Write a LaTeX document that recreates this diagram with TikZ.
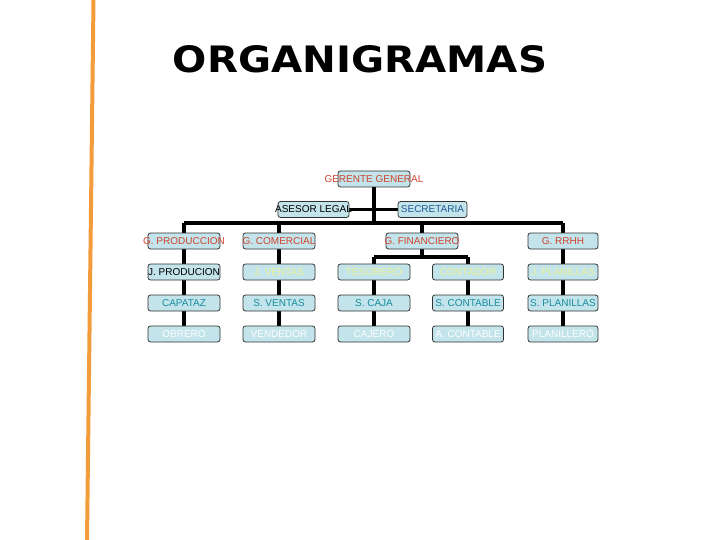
\documentclass[tikz,border=0pt]{standalone}
\usepackage{fontspec}
\setmainfont{Liberation Sans}
\newfontfamily\titlefont{DejaVu Sans}
\usetikzlibrary{backgrounds}
\definecolor{boxfill}{RGB}{194,228,234}
\definecolor{boxline}{RGB}{50,50,50}
\definecolor{tred}{RGB}{208,68,46}
\definecolor{tyel}{RGB}{236,242,150}
\definecolor{tteal}{RGB}{24,140,158}
\definecolor{tblue}{RGB}{32,90,150}
\definecolor{orangeline}{RGB}{243,156,60}
\tikzset{
  orgbox/.style={draw=boxline, fill=boxfill, line width=0.8pt, rounded corners=2.5pt,
    minimum width=72pt, minimum height=16pt, inner sep=0pt, font=\fontsize{10}{12}\selectfont},
  conn/.style={line width=3.5pt, black},
}
\newcommand{\ztxt}[1]{\makebox[0pt]{#1}}
\begin{document}
\begin{tikzpicture}[x=1pt,y=-1pt]
\useasboundingbox (0,0) rectangle (720,540);
\draw[orangeline, line width=4pt] (93.5,0) -- (87,540);
\node[font=\titlefont\bfseries] (title) at (360,59) {\resizebox{374pt}{27pt}{ORGANIGRAMAS}};

% top
\node[orgbox, text=tred] (gg) at (374,179) {\ztxt{GERENTE GENERAL}};
\node[orgbox, minimum width=71pt, text=black] (al) at (313.5,209.5) {\ztxt{ASESOR LEGAL}};
\node[orgbox, minimum width=69pt, text=tblue] (se) at (432.5,209.5) {\ztxt{SECRETARIA}};

% row 1
\node[orgbox, text=tred] (gp) at (184,241) {\ztxt{G. PRODUCCION}};
\node[orgbox, text=tred] (gc) at (279,241) {\ztxt{G. COMERCIAL}};
\node[orgbox, text=tred] (gf) at (422,241) {\ztxt{G. FINANCIERO}};
\node[orgbox, minimum width=70pt, text=tred] (rh) at (563,241) {\ztxt{G. RRHH}};

% row 2
\node[orgbox, text=black] (jp) at (184,272) {\ztxt{J. PRODUCION}};
\node[orgbox, text=tyel] (jv) at (279,272) {\ztxt{J. VENTAS}};
\node[orgbox, text=tyel] (te) at (374,272) {\ztxt{TESORERO}};
\node[orgbox, minimum width=71pt, text=tyel] (co) at (468,272) {\ztxt{CONTADOR}};
\node[orgbox, minimum width=70pt, text=tyel] (jl) at (563,272) {\ztxt{J. PLANILLAS}};

% row 3
\node[orgbox, text=tteal] (ca) at (184,303) {\ztxt{CAPATAZ}};
\node[orgbox, text=tteal] (sv) at (279,303) {\ztxt{S. VENTAS}};
\node[orgbox, text=tteal] (sj) at (374,303) {\ztxt{S. CAJA}};
\node[orgbox, minimum width=71pt, text=tteal] (sc) at (468,303) {\ztxt{S. CONTABLE}};
\node[orgbox, minimum width=70pt, text=tteal] (sl) at (563,303) {\ztxt{S. PLANILLAS}};

% row 4
\node[orgbox, text=white] (ob) at (184,334) {\ztxt{OBRERO}};
\node[orgbox, text=white] (ve) at (279,334) {\ztxt{VENDEDOR}};
\node[orgbox, text=white] (cj) at (374,334) {\ztxt{CAJERO}};
\node[orgbox, minimum width=71pt, text=white] (ac) at (468,334) {\ztxt{A. CONTABLE}};
\node[orgbox, minimum width=70pt, text=white] (pl) at (563,334) {\ztxt{PLANILLERO}};

\coordinate (bar) at (375,223);
\coordinate (fbar) at (422,257);

\begin{scope}[on background layer]
  \fill[white] (0,0) rectangle (720,540);
  \draw[conn] (gg.center) -- (gg |- bar);
  \draw[conn] (al.center) -- (se.center);
  \draw[conn] (gp.center |- bar) -- (rh.center |- bar);
  \draw[conn] (gp.center |- bar) -- (ob.center);
  \draw[conn] (gc.center |- bar) -- (ve.center);
  \draw[conn] (gf.center |- bar) -- (gf.center);
  \draw[conn] (rh.center |- bar) -- (pl.center);
  \draw[conn] (gf.center) -- (fbar);
  \draw[conn] (te.center |- fbar) -- (co.center |- fbar);
  \draw[conn] (te.center |- fbar) -- (cj.center);
  \draw[conn] (co.center |- fbar) -- (ac.center);
\end{scope}
\end{tikzpicture}
\end{document}
